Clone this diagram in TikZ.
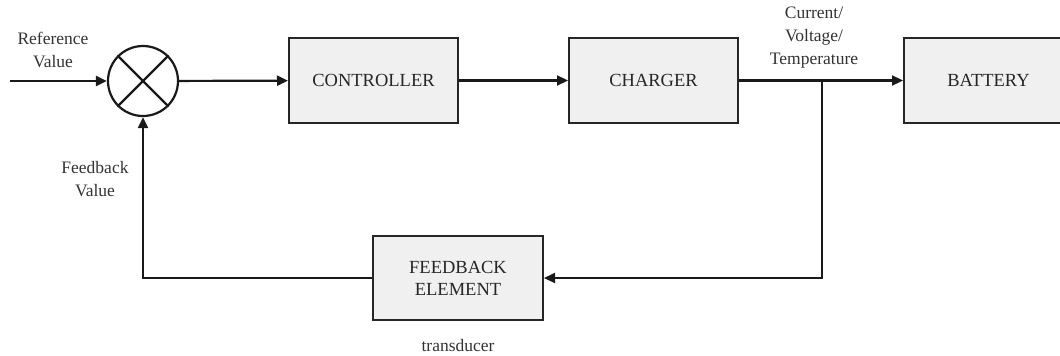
\documentclass[tikz,border=0pt]{standalone}
\usepackage{fontspec}
\setmainfont{Liberation Serif}
\usetikzlibrary{arrows.meta,shadows}
\begin{document}
\begin{tikzpicture}[x=1pt,y=-1pt,
  blk/.style={draw=black!85, line width=2pt, fill=black!6, minimum width=169pt, minimum height=85pt, inner sep=0pt,
    font=\fontsize{18.5}{22}\selectfont, align=center, text=black!85,
    drop shadow={shadow xshift=1.2pt, shadow yshift=-1.2pt, fill=black!30, opacity=0.6}},
  lbl/.style={font=\fontsize{17.5}{23}\selectfont, align=center, text=black!80, inner sep=0pt},
  wire/.style={line width=2.2pt, draw=black!90},
  arr/.style={wire, -{Triangle[length=11pt,width=10pt]}}
]
\useasboundingbox (0,0) rectangle (1060,356);
\node[draw=black!90, line width=2.2pt, circle, minimum size=70pt, inner sep=0pt] (sum) at (143,81) {};
\draw[wire] (sum.north east) -- (sum.south west);
\draw[wire] (sum.north west) -- (sum.south east);
\node[blk] (ctrl) at (373.5,80.5) {CONTROLLER};
\node[blk] (chg) at (653.5,80.5) {CHARGER};
\node[blk] (bat) at (988.5,80.5) {BATTERY};
\node[blk, minimum width=170pt, minimum height=84pt] (fb) at (458,278) {FEEDBACK\\ELEMENT};
\coordinate (in) at (10,81);
\coordinate (j) at (822,81);
\coordinate (jd) at (822,278);
\coordinate (fl) at (143,278);
\draw[arr] (in) -- (sum);
\draw[arr] (sum) -- (ctrl);
\draw[arr] (ctrl) -- (chg);
\draw[arr] (chg) -- (bat);
\draw[arr] (j) -- (jd) -- (fb.east);
\draw[arr] (fb.west) -- (fl) -- (sum.south);
\node[lbl] (refl) at (53,50) {Reference\\Value};
\node[lbl] (fbl) at (95,179) {Feedback\\Value};
\node[lbl] (cvt) at (814,38) {Current/\\Voltage/\\Temperature};
\node[lbl] (tr) at (458,346) {transducer};
\end{tikzpicture}
\end{document}
